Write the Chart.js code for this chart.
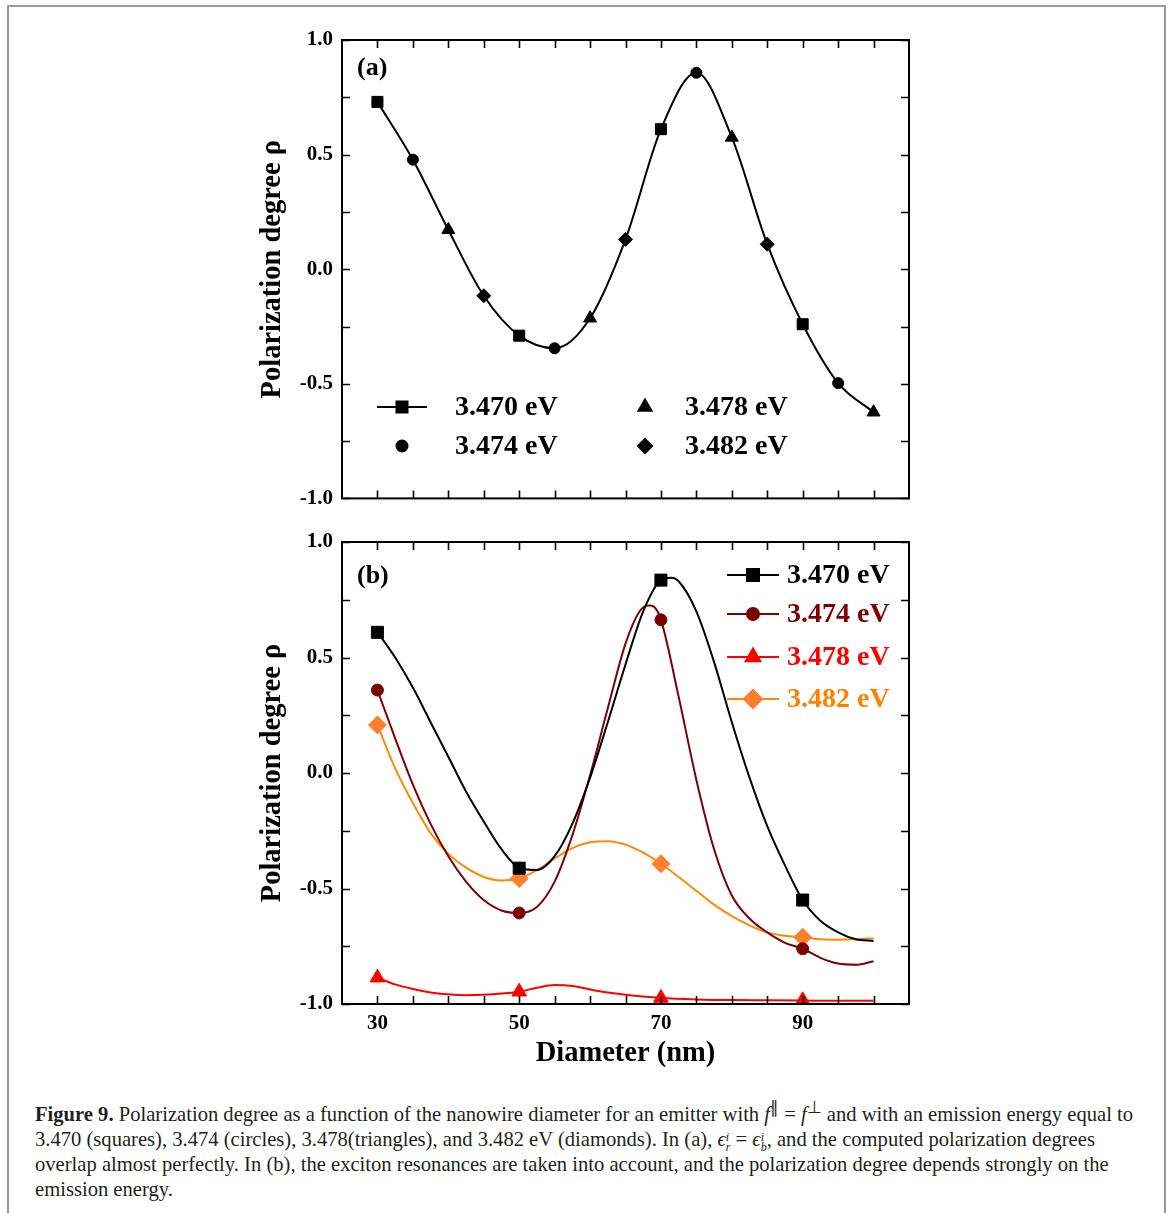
<!DOCTYPE html>
<html>
<head>
<meta charset="utf-8">
<script src="https://cdn.jsdelivr.net/npm/chart.js@4.4.0/dist/chart.umd.min.js"></script>
<style>
html, body { margin: 0; padding: 0; background: #fff; }
body { width: 1170px; height: 1213px; position: relative; overflow: hidden; }
#frame { position: absolute; left: 7px; top: 5px; width: 1155px; height: 1260px; border: 2px solid #9a9a9a; border-bottom: none; }
.wrap { position: absolute; left: 0; width: 1170px; }
#wrapA { top: 0; height: 520px; }
#wrapB { top: 520px; height: 560px; }
#caption { position: absolute; left: 35px; top: 1095px; font-family: "Liberation Serif", serif; font-size: 20.6px; line-height: 25px; white-space: nowrap; color: #231f20; }
#caption i { font-style: italic; }
.ss { display: inline-block; vertical-align: -5px; line-height: 10px; font-size: 12px; text-align: left; }
</style>
</head>
<body>
<div id="frame"></div>
<div class="wrap" id="wrapA"><canvas id="chartA"></canvas></div>
<div class="wrap" id="wrapB"><canvas id="chartB"></canvas></div>
<div id="caption">
<b>Figure 9.</b> Polarization degree as a function of the nanowire diameter for an emitter with <i>f</i><sup>∥</sup> = <i>f</i><sup>⊥</sup> and with an emission energy equal to<br>
3.470 (squares), 3.474 (circles), 3.478(triangles), and 3.482 eV (diamonds). In (a), <i>ϵ</i><span class="ss"><i>i</i><br><i>r</i></span> = <i>ϵ</i><span class="ss"><i>i</i><br><i>b</i></span>, and the computed polarization degrees<br>
overlap almost perfectly. In (b), the exciton resonances are taken into account, and the polarization degree depends strongly on the<br>
emission energy.
</div>
<script>
// ---- panel (a): values at the markers (all four energies overlap) ----
const aX470 = [30, 50, 70, 90];
const aY470 = [0.73, -0.29, 0.611, -0.24];
const aX474 = [35, 55, 75, 95];
const aY474 = [0.478, -0.345, 0.857, -0.497];
const aX478 = [40, 60, 80, 100];
const aY478 = [0.172, -0.214, 0.575, -0.624];
const aX482 = [45, 65, 85];
const aY482 = [-0.116, 0.13, 0.109];

// ---- panel (b): markers ----
const bX = [30, 50, 70, 90];
const bY470 = [0.609, -0.412, 0.835, -0.55];
const bY474 = [0.359, -0.606, 0.663, -0.761];
const bY478 = [-0.886, -0.947, -0.974, -0.984];
const bY482 = [0.208, -0.457, -0.393, -0.711];

// ---- panel (b): smooth curves ----
const cX470 = [30, 32.5, 35, 37.5, 40, 42.5, 45, 47.5, 50, 52.5, 55, 57.5, 60, 62.5, 65, 67.5, 70, 71.5, 72.5, 75, 77.5, 80, 82.5, 85, 87.5, 90, 92.5, 95, 97.5, 100];
const cY470 = [0.61, 0.5, 0.37, 0.22, 0.07, -0.08, -0.21, -0.33, -0.41, -0.42, -0.36, -0.22, -0.02, 0.22, 0.47, 0.7, 0.835, 0.845, 0.83, 0.7, 0.48, 0.22, -0.02, -0.23, -0.4, -0.55, -0.64, -0.69, -0.72, -0.727];
const cX474 = [30, 32.5, 35, 37.5, 40, 42.5, 45, 47.5, 50, 52.5, 55, 57.5, 60, 62.5, 65, 67, 68.3, 69, 70, 72.5, 75, 77.5, 80, 82.5, 85, 87.5, 90, 92.5, 95, 97.5, 100];
const cY474 = [0.359, 0.15, -0.05, -0.22, -0.36, -0.47, -0.55, -0.595, -0.606, -0.58, -0.47, -0.27, -0.01, 0.28, 0.56, 0.7, 0.725, 0.72, 0.663, 0.33, -0.03, -0.33, -0.53, -0.63, -0.69, -0.735, -0.761, -0.8, -0.825, -0.83, -0.815];
const cX478 = [30, 32.5, 35, 37.5, 40, 42.5, 45, 47.5, 50, 52.5, 55, 57.5, 60, 62.5, 65, 67.5, 70, 75, 80, 85, 90, 95, 100];
const cY478 = [-0.886, -0.915, -0.935, -0.95, -0.958, -0.962, -0.96, -0.955, -0.947, -0.93, -0.918, -0.922, -0.937, -0.95, -0.96, -0.968, -0.974, -0.98, -0.983, -0.984, -0.985, -0.986, -0.986];
const cX482 = [30, 32.5, 35, 37.5, 40, 42.5, 45, 47.5, 50, 52.5, 55, 57.5, 60, 62.5, 65, 67.5, 70, 72.5, 75, 77.5, 80, 82.5, 85, 87.5, 90, 92.5, 95, 97.5, 100];
const cY482 = [0.208, 0.02, -0.13, -0.26, -0.35, -0.41, -0.45, -0.465, -0.457, -0.42, -0.37, -0.325, -0.3, -0.295, -0.31, -0.345, -0.393, -0.45, -0.51, -0.57, -0.62, -0.66, -0.69, -0.705, -0.711, -0.72, -0.722, -0.72, -0.715];

const seriesLabels = ["3.470 eV", "3.474 eV", "3.478 eV", "3.482 eV"];
const xTickLabels = [30, 50, 70, 90];
const xMinorTicks = [30, 35, 40, 45, 50, 55, 60, 65, 70, 75, 80, 85, 90, 95, 100];
const yTickLabels = [-1, -0.5, 0, 0.5, 1];
const yMinorTicks = [-1, -0.75, -0.5, -0.25, 0, 0.25, 0.5, 0.75, 1];

const SERIF = '"Liberation Serif", "Times New Roman", serif';
const colLine = ["#000000", "#7f0000", "#ff0000", "#ff8a00"];
const colMark = ["#000000", "#7a0000", "#ff0000", "#ff7f2a"];

function pts(xs, ys) {
    return xs.map(function (x, i) { return { x: x, y: ys[i] }; });
}

function curveDs(data, color) {
    return {
        data: data, showLine: true, borderColor: color, borderWidth: 2,
        pointRadius: 0, cubicInterpolationMode: "monotone", order: 2
    };
}

function markerDs(data, style, radius, color) {
    return {
        data: data, showLine: false, pointStyle: style, pointRadius: radius,
        pointBackgroundColor: color, pointBorderColor: color, pointBorderWidth: 1, order: 1
    };
}

function drawMarker(ctx, style, r, x, y) {
    if (Chart.helpers && Chart.helpers.drawPoint) {
        Chart.helpers.drawPoint(ctx, { pointStyle: style, radius: r, rotation: 0, borderWidth: 1 }, x, y);
        return;
    }
    ctx.beginPath();
    ctx.arc(x, y, r, 0, Math.PI * 2);
    ctx.fill();
}

// frame, inward ticks, titles and legend
const decor = {
    id: "decor",
    afterDraw: function (chart, args, o) {
        var ctx = chart.ctx, a = chart.chartArea;
        var xs = chart.scales.x, ys = chart.scales.y;
        ctx.save();
        ctx.strokeStyle = "#000";
        ctx.lineWidth = 2;
        ctx.strokeRect(a.left, a.top, a.right - a.left, a.bottom - a.top);
        ctx.lineWidth = 1.6;
        ctx.beginPath();
        xMinorTicks.forEach(function (v) {
            var px = Math.round(xs.getPixelForValue(v)) + 0.5;
            ctx.moveTo(px, a.bottom); ctx.lineTo(px, a.bottom - 8);
            ctx.moveTo(px, a.top); ctx.lineTo(px, a.top + 8);
        });
        yMinorTicks.forEach(function (v) {
            var py = Math.round(ys.getPixelForValue(v)) + 0.5;
            ctx.moveTo(a.left, py); ctx.lineTo(a.left + 8, py);
            ctx.moveTo(a.right, py); ctx.lineTo(a.right - 8, py);
        });
        ctx.stroke();

        ctx.fillStyle = "#000";
        ctx.textBaseline = "middle";
        ctx.textAlign = "left";
        ctx.font = "bold 26px " + SERIF;
        ctx.fillText(o.panel, o.panelX, o.panelY);

        ctx.save();
        ctx.translate(o.yTitleX, (a.top + a.bottom) / 2);
        ctx.rotate(-Math.PI / 2);
        ctx.textAlign = "center";
        ctx.font = "bold 28.5px " + SERIF;
        ctx.fillText("Polarization degree \u03c1", 0, 0);
        ctx.restore();

        if (o.xTitle) {
            ctx.textAlign = "center";
            ctx.font = "bold 28.5px " + SERIF;
            ctx.fillText(o.xTitle, (a.left + a.right) / 2, o.xTitleY);
        }

        ctx.font = "bold 28px " + SERIF;
        o.legend.forEach(function (it) {
            var ds = chart.data.datasets[it.ds];
            var c = ds.pointBackgroundColor;
            if (it.line) {
                ctx.strokeStyle = it.lineColor;
                ctx.lineWidth = 2;
                ctx.beginPath();
                ctx.moveTo(it.x - it.line, it.y);
                ctx.lineTo(it.x + it.line, it.y);
                ctx.stroke();
            }
            ctx.fillStyle = c;
            ctx.strokeStyle = c;
            drawMarker(ctx, ds.pointStyle, ds.pointRadius, it.x, it.y);
            ctx.fillStyle = it.textColor;
            ctx.textAlign = "left";
            ctx.fillText(it.label, it.tx, it.y + 1);
        });
        ctx.restore();
    }
};

function scalesFor(showX, xHeight) {
    return {
        x: {
            type: "linear", min: 25, max: 105,
            afterBuildTicks: function (s) { s.ticks = xTickLabels.map(function (v) { return { value: v }; }); },
            ticks: {
                display: showX, color: "#000", padding: 7,
                font: { family: SERIF, size: 21, weight: "bold" },
                callback: function (v) { return String(v); }
            },
            grid: { display: false, drawTicks: false },
            border: { display: false },
            afterFit: function (s) { s.height = xHeight; }
        },
        y: {
            type: "linear", min: -1, max: 1,
            afterBuildTicks: function (s) { s.ticks = yTickLabels.map(function (v) { return { value: v }; }); },
            ticks: {
                color: "#000", padding: 9,
                font: { family: SERIF, size: 21, weight: "bold" },
                callback: function (v) { return v.toFixed(1); }
            },
            grid: { display: false, drawTicks: false },
            border: { display: false },
            afterFit: function (s) { s.width = 342; }
        }
    };
}

// panel (a): one curve through every marker
var allA = pts(aX470, aY470).concat(pts(aX474, aY474), pts(aX478, aY478), pts(aX482, aY482))
    .sort(function (p, q) { return p.x - q.x; });

new Chart(document.getElementById("chartA"), {
    type: "scatter",
    data: {
        datasets: [
            curveDs(allA, "#000"),
            markerDs(pts(aX470, aY470), "rect", 7.8, "#000"),
            markerDs(pts(aX474, aY474), "circle", 5.5, "#000"),
            markerDs(pts(aX478, aY478), "triangle", 7.5, "#000"),
            markerDs(pts(aX482, aY482), "rectRot", 7, "#000")
        ]
    },
    options: {
        responsive: true, maintainAspectRatio: false, animation: false,
        layout: { padding: { left: 0, right: 261, top: 40, bottom: 0 } },
        scales: scalesFor(false, 19),
        plugins: {
            legend: { display: false }, tooltip: { enabled: false },
            decor: {
                panel: "(a)", panelX: 357, panelY: 68, yTitleX: 273,
                legend: [
                    { ds: 1, x: 402, y: 407, line: 25, lineColor: "#000", tx: 455, label: seriesLabels[0], textColor: "#000" },
                    { ds: 2, x: 402, y: 446, line: 0, tx: 455, label: seriesLabels[1], textColor: "#000" },
                    { ds: 3, x: 645, y: 407, line: 0, tx: 685, label: seriesLabels[2], textColor: "#000" },
                    { ds: 4, x: 645, y: 446, line: 0, tx: 685, label: seriesLabels[3], textColor: "#000" }
                ]
            }
        }
    },
    plugins: [decor]
});

new Chart(document.getElementById("chartB"), {
    type: "scatter",
    data: {
        datasets: [
            curveDs(pts(cX470, cY470), colLine[0]),
            curveDs(pts(cX474, cY474), colLine[1]),
            curveDs(pts(cX478, cY478), colLine[2]),
            curveDs(pts(cX482, cY482), colLine[3]),
            markerDs(pts(bX, bY470), "rect", 8.5, colMark[0]),
            markerDs(pts(bX, bY474), "circle", 6, colMark[1]),
            markerDs(pts(bX, bY478), "triangle", 8.5, colMark[2]),
            markerDs(pts(bX, bY482), "rectRot", 9, colMark[3])
        ]
    },
    options: {
        responsive: true, maintainAspectRatio: false, animation: false,
        layout: { padding: { left: 0, right: 261, top: 22, bottom: 0 } },
        scales: scalesFor(true, 76),
        plugins: {
            legend: { display: false }, tooltip: { enabled: false },
            decor: {
                panel: "(b)", panelX: 357, panelY: 56, yTitleX: 273, xTitle: "Diameter (nm)", xTitleY: 534,
                legend: [
                    { ds: 4, x: 753, y: 55, line: 26, lineColor: colLine[0], tx: 787, label: seriesLabels[0], textColor: "#000" },
                    { ds: 5, x: 753, y: 94, line: 26, lineColor: colLine[1], tx: 787, label: seriesLabels[1], textColor: "#7f0000" },
                    { ds: 6, x: 753, y: 137, line: 26, lineColor: colLine[2], tx: 787, label: seriesLabels[2], textColor: "#ff0000" },
                    { ds: 7, x: 753, y: 179, line: 26, lineColor: colLine[3], tx: 787, label: seriesLabels[3], textColor: "#ff8000" }
                ]
            }
        }
    },
    plugins: [decor]
});
</script>
</body>
</html>
